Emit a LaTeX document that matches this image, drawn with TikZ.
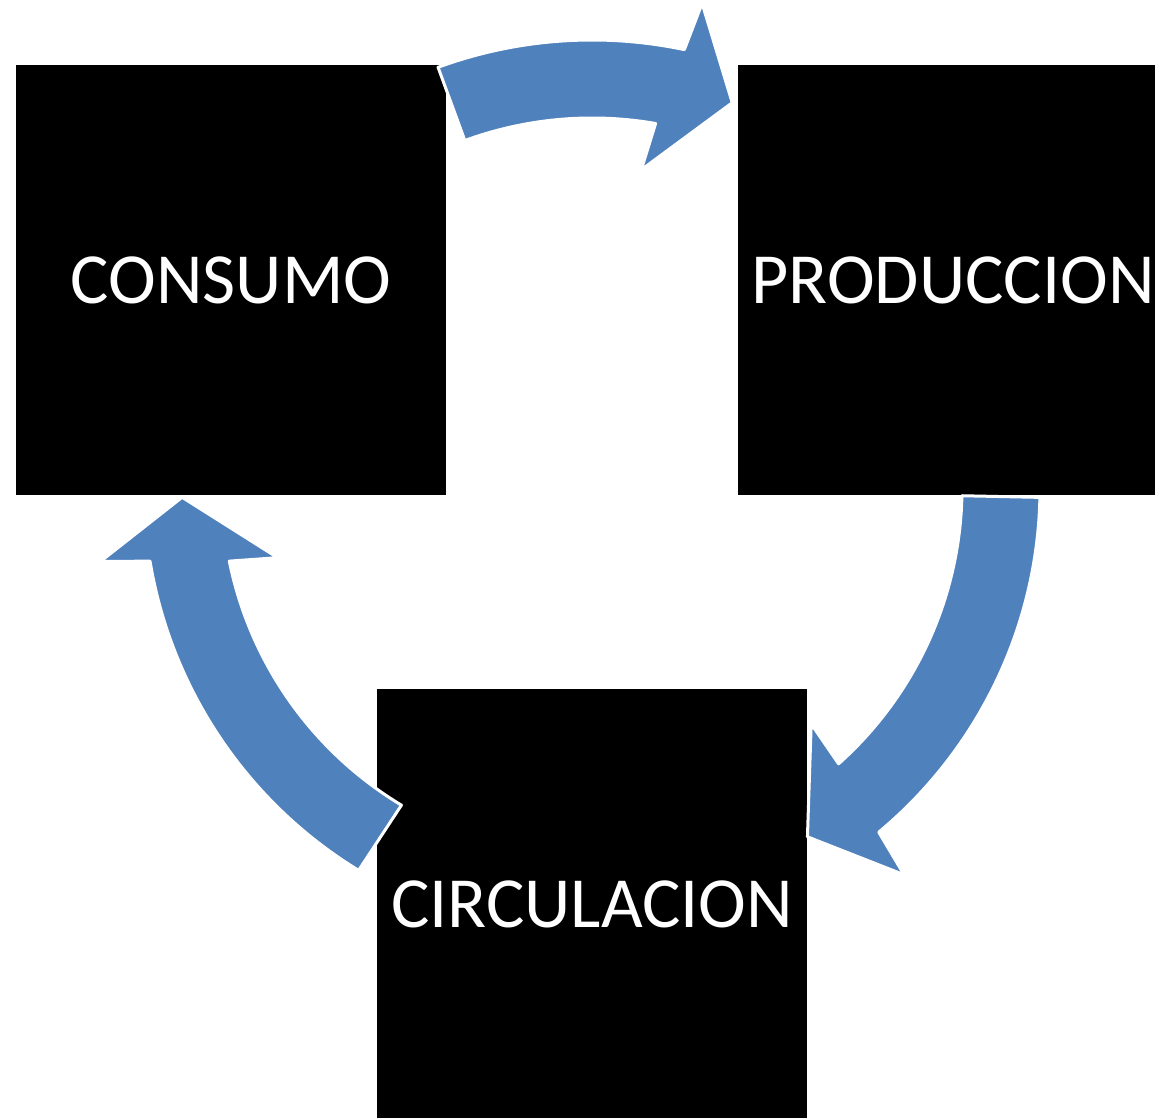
\documentclass[tikz,border=0pt]{standalone}
\usepackage{fontspec}
\setmainfont{Carlito}
\usepackage{tikz}
\tikzset{
  caja/.style={fill=black, draw=none, minimum size=430pt, inner sep=0pt,
    text=white, font=\fontsize{72}{86}\selectfont},
  flecha/.style={fill=flechaazul, draw=white, line width=3pt, line join=round}
}
\definecolor{flechaazul}{RGB}{79,129,189}

\begin{document}
\begin{tikzpicture}[x=1pt, y=1pt]
	\useasboundingbox (0, 0) rectangle (1155, 1117);
	\clip (0, 0) rectangle (1155, 1117);
	\coordinate (centro) at (592, 629);
	% the three boxes
	\node[caja] (consumo) at (231, 837) {CONSUMO};
	\node[caja] (produccion) at (953, 837) {PRODUCCION};
	\node[caja] (circulacion) at (592, 213) {CIRCULACION};
	% consumo -> produccion
	\draw[flecha, shift={(centro)}] (110.1:448) arc[start angle=110.1, end angle=78.1, radius=448]
		-- (77.2:497) -- (70:410) -- (81.2:322) -- (80.1:370)
		arc[start angle=80.1, end angle=110.1, radius=370] -- cycle;
	% produccion -> circulacion
	\draw[flecha, shift={(centro)}] (-1.2:448) arc[start angle=-1.2, end angle=-50.2, radius=448]
		-- (-51.1:497) -- (-58.3:410) -- (-47.1:322) -- (-48.2:370)
		arc[start angle=-48.2, end angle=-1.2, radius=370] -- cycle;
	% circulacion -> consumo
	\draw[flecha, shift={(centro)}] (238.6:448) arc[start angle=238.6, end angle=189.4, radius=448]
		-- (188.5:497) -- (181.3:410) -- (192.5:322) -- (191.4:370)
		arc[start angle=191.4, end angle=239.0, radius=370] -- cycle;
\end{tikzpicture}
\end{document}
